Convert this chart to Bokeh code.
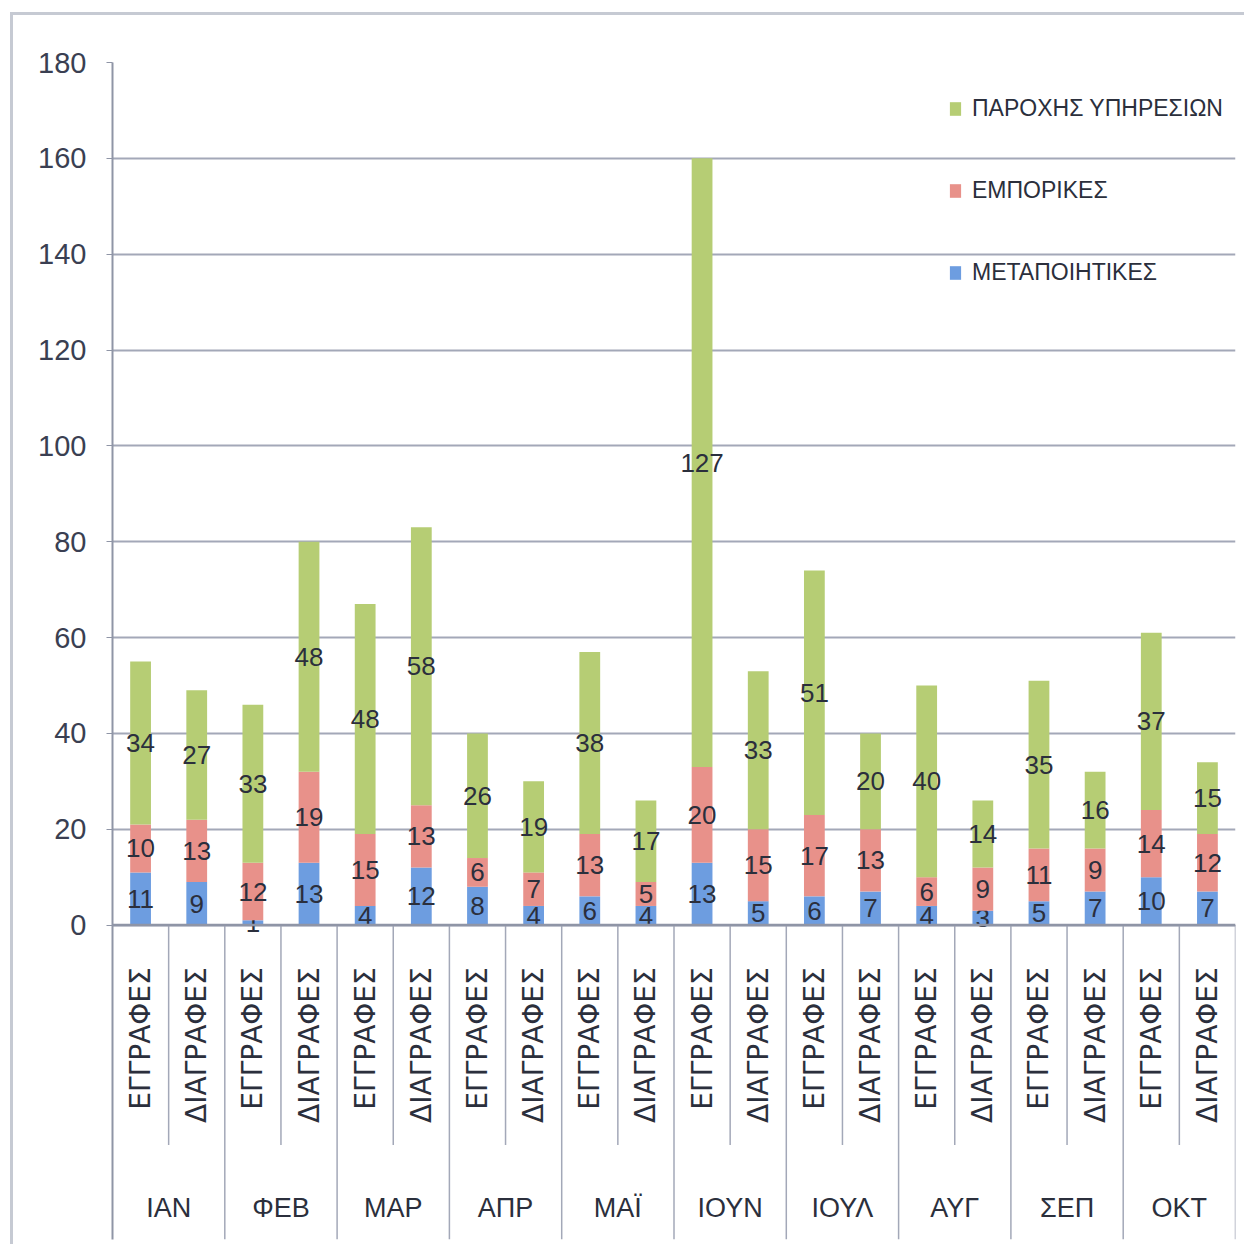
import numpy as np
from bokeh.plotting import figure
from bokeh.models import Range1d, FixedTicker, ColumnDataSource, Legend, LegendItem
from bokeh.core.properties import value
from bokeh.embed import file_html
from bokeh.resources import INLINE

months = ["ΙΑΝ", "ΦΕΒ", "ΜΑΡ", "ΑΠΡ", "ΜΑΪ", "ΙΟΥΝ", "ΙΟΥΛ", "ΑΥΓ", "ΣΕΠ", "ΟΚΤ"]
kinds = ["ΕΓΓΡΑΦΕΣ", "ΔΙΑΓΡΑΦΕΣ"]
metapoiitikes = [11, 9, 1, 13, 4, 12, 8, 4, 6, 4, 13, 5, 6, 7, 4, 3, 5, 7, 10, 7]
emporikes = [10, 13, 12, 19, 15, 13, 6, 7, 13, 5, 20, 15, 17, 13, 6, 9, 11, 9, 14, 12]
paroxis = [34, 27, 33, 48, 48, 58, 26, 19, 38, 17, 127, 33, 51, 20, 40, 14, 35, 16, 37, 15]
y_ticks = [0, 20, 40, 60, 80, 100, 120, 140, 160, 180]
series_names = ["ΜΕΤΑΠΟΙΗΤΙΚΕΣ", "ΕΜΠΟΡΙΚΕΣ", "ΠΑΡΟΧΗΣ ΥΠΗΡΕΣΙΩΝ"]
colors = ["#6d9de0", "#e8918a", "#b6cd74"]

FONT = "Liberation Sans"
TEXT_COLOR = "#2b2f3c"
LINE_COLOR = "#a3a8b8"

n_cat = len(months) * len(kinds)
idx = np.arange(n_cat)
sub_labels = [kinds[i % len(kinds)] for i in idx]

p = figure(width=1234, height=1232, output_backend="svg", toolbar_location=None,
           x_range=Range1d(-0.5, n_cat - 0.5), y_range=Range1d(-65.6, 180),
           x_axis_location=None, min_border_left=99, min_border_right=12,
           min_border_top=47, min_border_bottom=8)
p.outline_line_color = None
p.background_fill_color = "white"
p.border_fill_color = "white"
p.styles = {"border-top": "3px solid #c6cad3", "border-left": "3px solid #c6cad3",
            "box-sizing": "border-box", "margin-left": "10px", "margin-top": "12px"}

# grid
p.xgrid.visible = False
p.ygrid.ticker = FixedTicker(ticks=y_ticks)
p.ygrid.grid_line_color = LINE_COLOR
p.ygrid.grid_line_width = 2

# y axis
ax = p.yaxis[0]
ax.ticker = FixedTicker(ticks=y_ticks)
ax.axis_line_color = "#8f95a6"
ax.axis_line_width = 2
ax.major_tick_line_color = "#8f95a6"
ax.major_tick_out = 6
ax.major_tick_in = 0
ax.minor_tick_line_color = None
ax.major_label_standoff = 20
ax.major_label_text_font = FONT
ax.major_label_text_font_size = "29px"
ax.major_label_text_color = "#3a3f52"

# stacked bars
series = [metapoiitikes, emporikes, paroxis]
bottoms = np.zeros(n_cat)
renderers = []
for vals, col, name in zip(series, colors, series_names):
    vals = np.array(vals, dtype=float)
    src = ColumnDataSource(dict(x=idx, bottom=bottoms, top=bottoms + vals,
                                mid=bottoms + vals / 2, lab=[str(int(v)) for v in vals]))
    r = p.vbar(x="x", bottom="bottom", top="top", width=0.37, source=src,
               fill_color=col, line_color=None)
    p.text(x="x", y="mid", text="lab", source=src, text_align="center",
           text_baseline="middle", text_font=value(FONT), text_font_size="26px",
           text_color=TEXT_COLOR)
    renderers.append(r)
    bottoms = bottoms + vals

# category axis drawn inside the frame below zero
minor_x = [2 * k + 0.5 for k in range(len(months))]
major_x = [2 * k + 1.5 for k in range(len(months))]
p.segment(x0=minor_x, x1=minor_x, y0=0, y1=-45.9, line_color=LINE_COLOR, line_width=1.5)
p.segment(x0=major_x, x1=major_x, y0=0, y1=-65.6, line_color=LINE_COLOR, line_width=1.5)
p.segment(x0=[-0.5], x1=[n_cat - 0.5], y0=[0], y1=[0], line_color="#8f95a6", line_width=2.5)

p.text(x=idx, y=-8.8, text=sub_labels, angle=np.pi / 2, text_align="right",
       text_baseline="middle", text_font=value("DejaVu Sans"), text_font_size="28px",
       text_color=TEXT_COLOR)
p.text(x=minor_x, y=-59.0, text=months, text_align="center", text_baseline="middle",
       text_font=value(FONT), text_font_size="27px", text_color=TEXT_COLOR)

legend = Legend(items=[LegendItem(label=series_names[2], renderers=[renderers[2]]),
                       LegendItem(label=series_names[1], renderers=[renderers[1]]),
                       LegendItem(label=series_names[0], renderers=[renderers[0]])],
                location=(836, 952), orientation="vertical")
legend.glyph_width = 14
legend.glyph_height = 17
legend.label_standoff = 10
legend.spacing = 52
legend.label_height = 30
legend.padding = 0
legend.margin = 0
legend.border_line_color = None
legend.background_fill_alpha = 0
legend.label_text_font = FONT
legend.label_text_font_size = "23px"
legend.label_text_color = TEXT_COLOR
p.add_layout(legend)

open("out.html", "w").write(file_html(p, INLINE))
